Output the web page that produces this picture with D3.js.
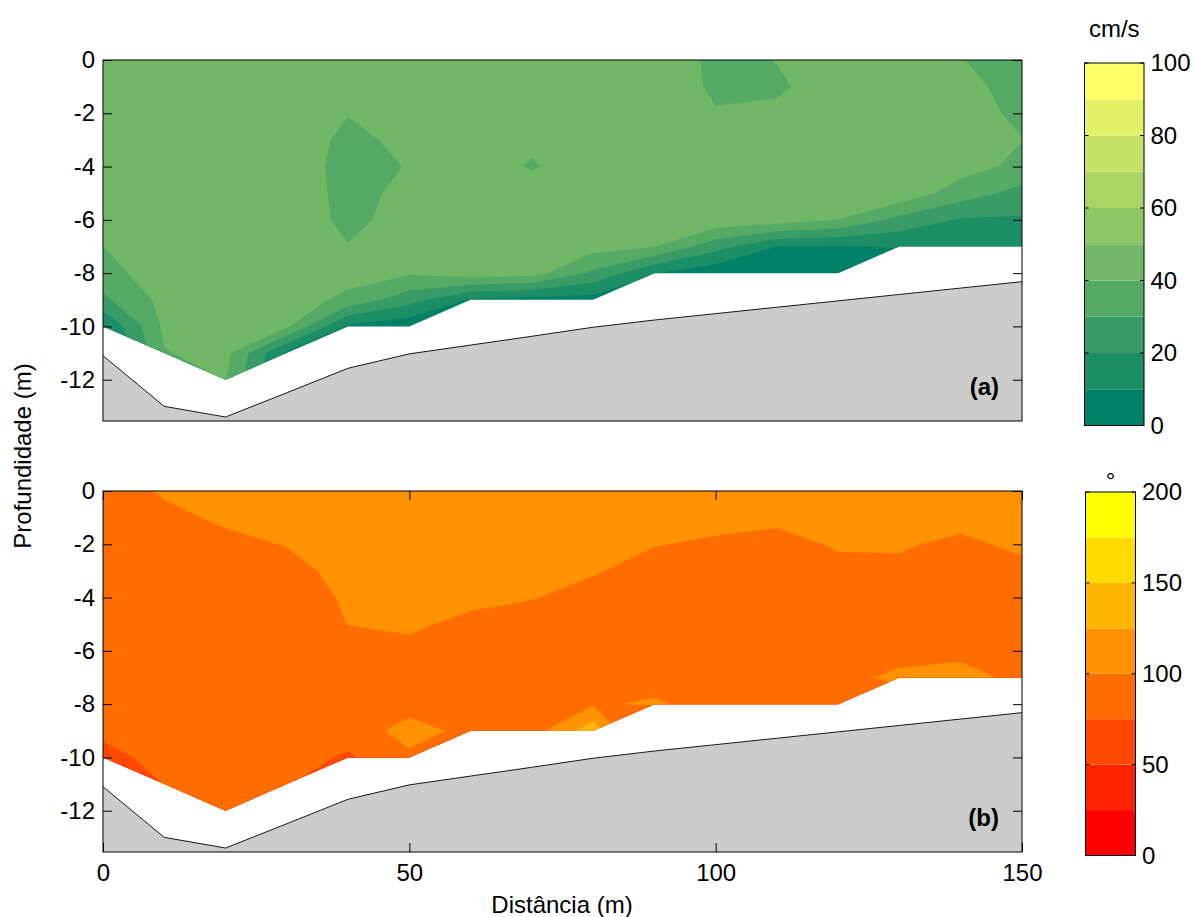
<!DOCTYPE html>
<html>
<head>
<meta charset="utf-8">
<script src="https://cdn.jsdelivr.net/npm/d3@7"></script>
<style>
  body { margin: 0; background: #fff; }
  svg text { font-family: "Liberation Sans", Arial, Helvetica, sans-serif; fill: #000; }
</style>
</head>
<body>
<svg id="chart" width="1195" height="917"></svg>
<script>
// ---------------- data ----------------
const distances = [0, 10, 20, 30, 40, 50, 60, 70, 80, 90, 100, 110, 120, 130, 140, 150];
const depths = [0, -1, -2, -3, -4, -5, -6, -7, -8, -9, -10, -11, -12];
// deepest valid measurement at each station (below: blanked)
const lastBinDepth = [-10, -11, -12, -11, -10, -10, -9, -9, -9, -8, -8, -8, -8, -7, -7, -7];
// river bed
const bedDepth = [-11.1, -13.0, -13.4, -12.49, -11.57, -11.03, -10.7, -10.37, -10.03, -9.76, -9.52, -9.28, -9.04, -8.8, -8.56, -8.32];

// velocity (cm/s), rows = depths, columns = distances
const velocity = [
  [45, 45.5, 46, 46, 45.5, 45, 46, 46, 46, 47.5, 37.5, 40.3, 46, 45, 40.3, 36],
  [45, 46, 46, 46, 44.5, 44.5, 45.5, 45.5, 46, 44, 39, 38.5, 45, 45.5, 42, 37.5],
  [45.5, 46, 46.5, 45.5, 40.3, 43, 45, 45, 45.5, 45, 40.4, 42, 45, 45.5, 43, 38.5],
  [45.5, 46, 46.5, 45, 38, 42, 44.5, 41.5, 45, 45.5, 44, 44, 45.5, 46, 45, 40.2],
  [45, 46, 46.5, 45, 37, 40.4, 44, 39.3, 44, 45.5, 45, 45, 45.5, 46.5, 44, 37.5],
  [45, 46.5, 47, 45, 37.5, 42, 44.5, 44.5, 45, 45.5, 46, 45.5, 45, 47, 35, 26.5],
  [44, 47, 47, 45, 38, 43, 45, 44.5, 45, 45, 47, 45, 39.9, 27, 19, 18.8],
  [39.9, 47, 47, 46, 40.3, 44, 46, 45, 44, 40.2, 24, 10, 9.5, 10.5, 14, 14],
  [36, 46, 47, 46.5, 45, 41, 46, 44, 28, 10.5, 3, 2, 2, 3, 8, 8],
  [28, 43, 46.5, 46, 37, 24, 9, 6, 6, 3, 2, 1, 1, 1, 5, 5],
  [9, 42, 45, 41.5, 8, 3, 4, 3, 3, 2, 1, 1, 1, 1, 3, 3],
  [5, 39.5, 43, 8, 4, 2, 2, 2, 2, 1, 1, 1, 1, 1, 2, 2],
  [3, 30, 40.5, 5, 3, 1, 1, 1, 1, 1, 1, 1, 1, 1, 1, 1]
];

// direction (degrees), rows = depths, columns = distances
const direction = [
  [92, 101.5, 104, 107, 110, 112, 111, 110, 112, 111, 106, 107, 108, 108, 108, 109],
  [91, 97, 102, 104, 108, 110, 110, 109, 108, 106, 103, 102, 106, 105, 103, 106],
  [90, 95, 97, 100.5, 106, 108, 108, 107, 105, 100.5, 98.5, 97, 101, 101, 98, 102],
  [90, 93, 95, 96, 104, 106, 106, 105, 101, 95.5, 95, 94, 97.5, 98, 96, 97.5],
  [89, 92, 93, 92, 102, 104, 103, 100.5, 96, 94, 93, 92, 94, 95, 94, 95],
  [89, 91, 92, 91, 100.2, 102, 97, 95, 94, 93, 92, 91, 92, 92, 92, 94],
  [88, 90, 91, 90, 95, 97, 94, 93, 93, 92, 91, 90, 91, 93, 96.5, 93],
  [87, 90, 90, 89, 92, 93, 92, 91, 92, 92.5, 90, 89, 94, 104, 105, 96.5],
  [85, 89, 90, 88, 88, 90, 90, 90, 98, 102.5, 93, 90, 92, 90, 95, 92],
  [80, 87, 89, 87, 85, 110, 93, 89, 140, 40, 85, 85, 85, 85, 90, 90],
  [68, 82, 88, 84, 72, 95, 88, 85, 60, 40, 80, 80, 80, 80, 85, 85],
  [60, 75.5, 87, 76, 65, 80, 80, 80, 50, 40, 80, 80, 80, 80, 80, 80],
  [55, 65, 85, 70, 60, 70, 75, 75, 50, 40, 80, 80, 80, 80, 80, 80]
];

const velocityLevels = [0, 10, 20, 30, 40, 50, 60, 70, 80, 90];
const velocityMax = 100;
const velocityTicks = [0, 20, 40, 60, 80, 100];
const directionLevels = [0, 25, 50, 75, 100, 125, 150, 175];
const directionMax = 200;
const directionTicks = [0, 50, 100, 150, 200];
const depthTicks = [0, -2, -4, -6, -8, -10, -12];
const distanceTicks = [0, 50, 100, 150];

// MATLAB "summer" (10) and "autumn" (8) colormaps
const summerColors = ["#008066", "#1c8e66", "#399c66", "#55aa66", "#71b866", "#8ec666", "#aad466", "#c6e366", "#e3f166", "#ffff66"];
const autumnColors = ["#ff0000", "#ff2400", "#ff4900", "#ff6d00", "#ff9200", "#ffb600", "#ffdb00", "#ffff00"];

// ---------------- layout ----------------
const FS = 24;
const svg = d3.select("#chart");
const plotLeft = 103, plotRight = 1022;
const depthMin = -13.55;
const x = d3.scaleLinear().domain([0, 150]).range([plotLeft, plotRight]);
// grid coordinates (d3.contours puts sample i at i+0.5)
const gx = d3.scaleLinear().domain([0.5, distances.length - 0.5]).range([distances[0], distances[distances.length - 1]]);
const gy = d3.scaleLinear().domain([0.5, depths.length - 0.5]).range([depths[0], depths[depths.length - 1]]);

const panels = [
  { id: "a", top: 60, bottom: 421, values: velocity, levels: velocityLevels, colors: summerColors, label: "(a)",
    cb: { left: 1084.5, right: 1144, top: 63, bottom: 425.5, max: velocityMax, ticks: velocityTicks, unit: "cm/s", unitY: 37 },
    xTicks: false },
  { id: "b", top: 491, bottom: 852, values: direction, levels: directionLevels, colors: autumnColors, label: "(b)",
    cb: { left: 1085.5, right: 1135.5, top: 492, bottom: 855.5, max: directionMax, ticks: directionTicks, unit: "°", unitY: 489 },
    xTicks: true }
];

panels.forEach(p => {
  const y = d3.scaleLinear().domain([depthMin, 0]).range([p.bottom, p.top]);
  const g = svg.append("g");

  // clip region = measured part of the section
  const outline = [[distances[0], 0], [distances[distances.length - 1], 0]]
    .concat(distances.map((d, i) => [d, lastBinDepth[i]]).reverse());
  const line = d3.line().x(d => x(d[0])).y(d => y(d[1]));
  svg.append("clipPath").attr("id", "clip-" + p.id)
    .append("path").attr("d", line(outline) + "Z");

  const contours = d3.contours()
    .size([distances.length, depths.length])
    .thresholds(p.levels)(p.values.flat());
  const proj = d3.geoTransform({
    point(px, py) { this.stream.point(x(gx(px)), y(gy(py))); }
  });
  const path = d3.geoPath(proj);
  g.append("g").attr("clip-path", `url(#clip-${p.id})`)
    .selectAll("path").data(contours).join("path")
    .attr("d", path)
    .attr("fill", d => p.colors[p.levels.indexOf(d.value)]);

  // river bed
  const bed = distances.map((d, i) => [d, bedDepth[i]]);
  g.append("path")
    .attr("d", d3.area().x(d => x(d[0])).y0(y(depthMin)).y1(d => y(d[1]))(bed))
    .attr("fill", "#cccccc");
  g.append("path")
    .attr("d", line(bed))
    .attr("fill", "none").attr("stroke", "#000").attr("stroke-width", 0.9);

  // axes
  const yAxis = d3.axisLeft(y).tickValues(depthTicks).tickFormat(d => String(d))
    .tickSizeInner(-9).tickSizeOuter(0).tickPadding(8);
  const ya = g.append("g").attr("transform", `translate(${plotLeft},0)`).call(yAxis);
  const yr = g.append("g").attr("transform", `translate(${plotRight},0)`)
    .call(d3.axisRight(y).tickValues(depthTicks).tickFormat("").tickSizeInner(-9).tickSizeOuter(0));
  const axes = [ya, yr];
  if (p.xTicks) {
    const xb = g.append("g").attr("transform", `translate(0,${p.bottom})`)
      .call(d3.axisBottom(x).tickValues(distanceTicks).tickFormat(d => String(d))
        .tickSizeInner(-9).tickSizeOuter(0).tickPadding(12));
    const xt = g.append("g").attr("transform", `translate(0,${p.top})`)
      .call(d3.axisTop(x).tickValues(distanceTicks).tickFormat("").tickSizeInner(-9).tickSizeOuter(0));
    axes.push(xb, xt);
  }
  axes.forEach(a => {
    a.select(".domain").remove();
    a.selectAll("line").attr("stroke", "#000");
    a.selectAll("text").attr("font-size", FS).style("font-family", '"Liberation Sans", Arial, sans-serif');
  });
  // frame
  g.append("rect").attr("x", plotLeft).attr("y", p.top)
    .attr("width", plotRight - plotLeft).attr("height", p.bottom - p.top)
    .attr("fill", "none").attr("stroke", "#000").attr("stroke-width", 1);

  // panel label
  g.append("text").attr("x", 999).attr("y", p.bottom - 26)
    .attr("text-anchor", "end").attr("font-size", FS).attr("font-weight", "bold").text(p.label);

  // colorbar
  const c = p.cb;
  const cy = d3.scaleLinear().domain([0, c.max]).range([c.bottom, c.top]);
  const cbg = svg.append("g");
  cbg.selectAll("rect.band").data(p.levels).join("rect").attr("class", "band")
    .attr("x", c.left).attr("width", c.right - c.left)
    .attr("y", (d, i) => cy(i + 1 < p.levels.length ? p.levels[i + 1] : c.max))
    .attr("height", (d, i) => cy(d) - cy(i + 1 < p.levels.length ? p.levels[i + 1] : c.max))
    .attr("fill", (d, i) => p.colors[i]);
  cbg.append("rect").attr("x", c.left).attr("y", c.top)
    .attr("width", c.right - c.left).attr("height", c.bottom - c.top)
    .attr("fill", "none").attr("stroke", "#000").attr("stroke-width", 1);
  const tk = cbg.selectAll("g.tk").data(c.ticks).join("g").attr("class", "tk");
  tk.append("line").attr("x1", c.left).attr("x2", c.left + 4).attr("y1", d => cy(d)).attr("y2", d => cy(d)).attr("stroke", "#000");
  tk.append("line").attr("x1", c.right - 4).attr("x2", c.right).attr("y1", d => cy(d)).attr("y2", d => cy(d)).attr("stroke", "#000");
  tk.append("text").attr("x", c.right + 6.5).attr("y", d => cy(d)).attr("dy", "0.35em")
    .attr("font-size", FS).text(d => String(d));
  cbg.append("text").attr("x", (c.left + c.right) / 2).attr("y", c.unitY)
    .attr("text-anchor", "middle").attr("font-size", FS).text(c.unit);
});

// axis titles
svg.append("text").attr("transform", "translate(31,456) rotate(-90)")
  .attr("text-anchor", "middle").attr("font-size", FS).text("Profundidade (m)");
svg.append("text").attr("x", 562).attr("y", 913)
  .attr("text-anchor", "middle").attr("font-size", FS).text("Distância (m)");
</script>
</body>
</html>
